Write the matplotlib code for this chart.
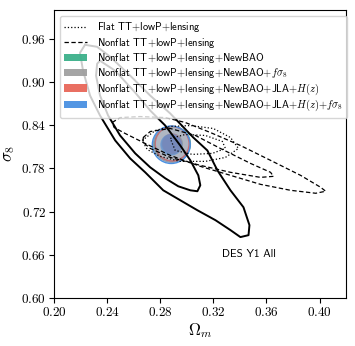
import numpy as np
import matplotlib
matplotlib.use('Agg')
import matplotlib.pyplot as plt
from matplotlib.patches import Ellipse, Patch
from matplotlib.lines import Line2D
from matplotlib.ticker import FuncFormatter

plt.rcParams['mathtext.fontset'] = 'cm'

# DES Y1 All contours (Omega_m, sigma_8)
des_outer_om = [0.2234, 0.2325, 0.2423, 0.2574, 0.2725, 0.2876, 0.3049, 0.3155, 0.3231, 0.3329, 0.3427, 0.3472, 0.3465,
                0.3404, 0.3329, 0.3216, 0.3080, 0.2951, 0.2823, 0.2687, 0.2574, 0.2461, 0.2347, 0.2272, 0.2219, 0.2196]
des_outer_s8 = [0.9517, 0.9489, 0.9351, 0.9088, 0.8811, 0.8562, 0.8229, 0.8049, 0.7772, 0.7495, 0.7260, 0.7011, 0.6872,
                0.6845, 0.6942, 0.7080, 0.7218, 0.7357, 0.7495, 0.7745, 0.7938, 0.8188, 0.8534, 0.8811, 0.9157, 0.9406]
des_inner_om = [0.2347, 0.2461, 0.2612, 0.2725, 0.2838, 0.2951, 0.3027, 0.3087, 0.3102, 0.3080,
                0.3027, 0.2936, 0.2838, 0.2725, 0.2612, 0.2498, 0.2408, 0.2347, 0.2317, 0.2325]
des_inner_s8 = [0.9295, 0.9157, 0.8852, 0.8603, 0.8395, 0.8118, 0.7911, 0.7703, 0.7565, 0.7482,
                0.7495, 0.7551, 0.7662, 0.7814, 0.8008, 0.8257, 0.8534, 0.8811, 0.9088, 0.9254]

# Nonflat TT+lowP+lensing (dashed)
nf_outer_om = [0.2438, 0.2498, 0.2649, 0.2838, 0.2989, 0.3178, 0.3404, 0.3631, 0.3857, 0.4008,
               0.4046, 0.3971, 0.3782, 0.3555, 0.3329, 0.3102, 0.2876, 0.2687, 0.2536, 0.2453]
nf_outer_s8 = [0.8437, 0.8506, 0.8520, 0.8506, 0.8437, 0.8298, 0.8118, 0.7911, 0.7703, 0.7537,
               0.7482, 0.7454, 0.7495, 0.7578, 0.7703, 0.7828, 0.7980, 0.8146, 0.8285, 0.8368]
nf_inner_om = [0.2672, 0.2725, 0.2876, 0.3065, 0.3253, 0.3480, 0.3631, 0.3653,
               0.3555, 0.3329, 0.3102, 0.2876, 0.2725, 0.2672]
nf_inner_s8 = [0.8229, 0.8312, 0.8354, 0.8257, 0.8077, 0.7869, 0.7745, 0.7689,
               0.7675, 0.7745, 0.7842, 0.7952, 0.8077, 0.8160]

# Flat TT+lowP+lensing (dotted)
fl_outer_om = [0.2664, 0.2763, 0.2876, 0.3027, 0.3200, 0.3329, 0.3389, 0.3291, 0.3140, 0.2951, 0.2800, 0.2702]
fl_outer_s8 = [0.8188, 0.8326, 0.8382, 0.8395, 0.8354, 0.8229, 0.8077, 0.7952, 0.7897, 0.7897, 0.7966, 0.8063]
fl_inner_om = [0.2876, 0.2989, 0.3140, 0.3268, 0.3291, 0.3193, 0.3042, 0.2913]
fl_inner_s8 = [0.8215, 0.8271, 0.8257, 0.8174, 0.8077, 0.8008, 0.7994, 0.8049]

# Filled contours: centre and full widths of 1 and 2 sigma regions
P = r'$+$'
fill_labels = ['Nonflat TT' + P + 'lowP' + P + 'lensing' + P + 'NewBAO',
               'Nonflat TT' + P + 'lowP' + P + 'lensing' + P + 'NewBAO' + P + r'$f\sigma_8$',
               'Nonflat TT' + P + 'lowP' + P + 'lensing' + P + 'NewBAO' + P + 'JLA' + P + r'$H(z)$',
               'Nonflat TT' + P + 'lowP' + P + 'lensing' + P + 'NewBAO' + P + 'JLA' + P + r'$H(z)$' + P + r'$f\sigma_8$']
fill_colors = ['#3cb08a', '#a0a0a0', '#e8675a', '#4a90e2']
fill_om = [0.2892, 0.2887, 0.2890, 0.2883]
fill_s8 = [0.8140, 0.8135, 0.8142, 0.8128]
w2 = [0.0270, 0.0275, 0.0255, 0.0285]
h2 = [0.0480, 0.0500, 0.0480, 0.0520]
w1 = [0.0160, 0.0165, 0.0150, 0.0165]
h1 = [0.0290, 0.0300, 0.0285, 0.0300]

fig = plt.figure(figsize=(3.55, 3.46), dpi=100)
ax = fig.add_axes([0.152, 0.139, 0.823, 0.832])

for i in range(len(fill_labels)):
    c = fill_colors[i]
    ax.add_patch(Ellipse((fill_om[i], fill_s8[i]), w2[i], h2[i], facecolor=c, alpha=0.22, edgecolor='none'))
    ax.add_patch(Ellipse((fill_om[i], fill_s8[i]), w2[i], h2[i], facecolor='none', edgecolor=c, lw=1.0))
    ax.add_patch(Ellipse((fill_om[i], fill_s8[i]), w1[i], h1[i], facecolor=c, alpha=0.55, edgecolor='none'))


def closed(a, b):
    return list(a) + [a[0]], list(b) + [b[0]]


for om, s8 in [(des_outer_om, des_outer_s8), (des_inner_om, des_inner_s8)]:
    x, y = closed(om, s8)
    ax.plot(x, y, color='black', lw=1.4, solid_joinstyle='round')
for om, s8 in [(nf_outer_om, nf_outer_s8), (nf_inner_om, nf_inner_s8)]:
    x, y = closed(om, s8)
    ax.plot(x, y, color='black', lw=0.9, ls='--', dashes=(3.5, 2))
for om, s8 in [(fl_outer_om, fl_outer_s8), (fl_inner_om, fl_inner_s8)]:
    x, y = closed(om, s8)
    ax.plot(x, y, color='black', lw=0.9, ls=':')

ax.set_xlim(0.20, 0.42)
ax.set_ylim(0.60, 1.00)
ax.set_xticks([0.20, 0.24, 0.28, 0.32, 0.36, 0.40])
ax.set_yticks([0.60, 0.66, 0.72, 0.78, 0.84, 0.90, 0.96])
fmt = FuncFormatter(lambda v, p: r'$%.2f$' % v)
ax.xaxis.set_major_formatter(fmt)
ax.yaxis.set_major_formatter(fmt)
ax.tick_params(labelsize=9.5, length=3.5, width=0.8, direction='out', pad=2)
ax.set_xlabel(r'$\Omega_m$', fontsize=12, labelpad=2)
ax.set_ylabel(r'$\sigma_8$', fontsize=12, labelpad=3)

ax.text(0.3268, 0.6568, 'DES Y1 All', fontsize=8, family='cmss10')

handles = [Line2D([], [], color='black', ls=':', lw=0.9),
           Line2D([], [], color='black', ls='--', lw=0.9, dashes=(3.5, 2))]
labels = ['Flat TT' + P + 'lowP' + P + 'lensing', 'Nonflat TT' + P + 'lowP' + P + 'lensing']
for i in range(len(fill_labels)):
    handles.append(Patch(facecolor=fill_colors[i], alpha=0.95, edgecolor='none'))
    labels.append(fill_labels[i])
leg = ax.legend(handles, labels, loc='upper left', prop={'family': 'cmss10', 'size': 7.5},
                handlelength=2.2, handleheight=0.75, labelspacing=0.12, borderpad=0.45, handletextpad=0.9,
                bbox_to_anchor=(0.0, 1.0), borderaxespad=0.55)

fig.savefig('out.png', dpi=100)
